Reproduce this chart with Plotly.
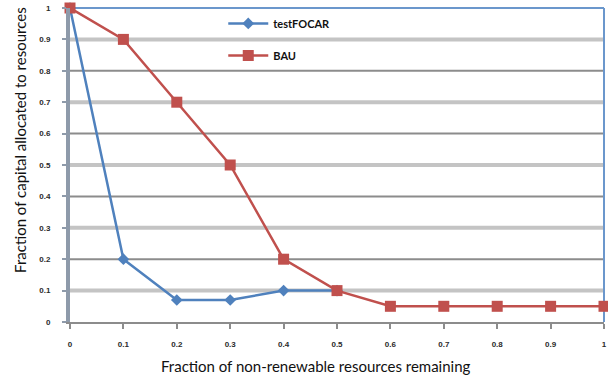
import plotly.graph_objects as go

x_focar = [0, 0.1, 0.2, 0.3, 0.4, 0.5]
y_focar = [1, 0.2, 0.07, 0.07, 0.1, 0.1]
x_bau = [0, 0.1, 0.2, 0.3, 0.4, 0.5, 0.6, 0.7, 0.8, 0.9, 1.0]
y_bau = [1, 0.9, 0.7, 0.5, 0.2, 0.1, 0.05, 0.05, 0.05, 0.05, 0.05]
tick_vals = [0, 0.1, 0.2, 0.3, 0.4, 0.5, 0.6, 0.7, 0.8, 0.9, 1.0]
tick_text = ["0", "0.1", "0.2", "0.3", "0.4", "0.5", "0.6", "0.7", "0.8", "0.9", "1"]
x_title = "Fraction of non-renewable resources remaining"
y_title = "Fraction of capital allocated to resources"

BLUE = "#4f81bd"
RED = "#c0504d"

fig = go.Figure()
fig.add_trace(go.Scatter(x=x_focar, y=y_focar, name="<b>testFOCAR</b>", mode="lines+markers",
                         line=dict(color=BLUE, width=2.5),
                         marker=dict(symbol="diamond", size=9, color=BLUE),
                         cliponaxis=False, legendgroup="a"))
fig.add_trace(go.Scatter(x=x_bau, y=y_bau, name="<b>BAU</b>", mode="lines+markers",
                         line=dict(color=RED, width=2.5),
                         marker=dict(symbol="square", size=11, color=RED),
                         cliponaxis=False, legendgroup="b"))

shapes = []
for i, v in enumerate(tick_vals[1:-1], start=1):
    if i % 2 == 1:
        shapes.append(dict(type="line", xref="paper", yref="y", x0=0, x1=1, y0=v, y1=v,
                           line=dict(color="#c4c4c4", width=4), layer="below"))
    else:
        shapes.append(dict(type="line", xref="paper", yref="y", x0=0, x1=1, y0=v, y1=v,
                           line=dict(color="#8c8c8c", width=2), layer="below"))
shapes.append(dict(type="line", xref="paper", yref="paper", x0=0, x1=1, y0=1, y1=1,
                   line=dict(color="#6b97cc", width=2), layer="below"))
shapes.append(dict(type="line", xref="paper", yref="paper", x0=1, x1=1, y0=0, y1=1,
                   line=dict(color="#6b97cc", width=2), layer="below"))

tickfont = dict(family="Liberation Sans", size=8, color="#2a2a2a", weight="bold")
titlefont = dict(family="Lato", size=15, color="#111111")

fig.update_layout(
    width=608, height=387,
    margin=dict(l=70, r=4, t=8, b=65),
    paper_bgcolor="white", plot_bgcolor="white",
    shapes=shapes,
    showlegend=True,
    legend=dict(x=0.287, y=0.997, xanchor="left", yanchor="top",
                bgcolor="rgba(0,0,0,0)", font=dict(family="Lato", size=11, color="#111111"),
                tracegroupgap=13, itemwidth=40),
    xaxis=dict(range=[0, 1], tickvals=tick_vals, ticktext=tick_text, tickfont=tickfont,
               showgrid=False, zeroline=False, showline=True, linecolor="#8c8c8c", linewidth=2,
               ticks="outside", ticklen=5, tickcolor="#8c8c8c", tickwidth=2,
               ticklabelstandoff=8, automargin=False),
    yaxis=dict(range=[0, 1], tickvals=tick_vals, ticktext=tick_text, tickfont=tickfont,
               showgrid=False, zeroline=False, showline=True, linecolor="#8e9aaa", linewidth=4,
               ticks="outside", ticklen=4, tickcolor="#8e9aaa", tickwidth=2,
               ticklabelstandoff=10, automargin=False),
    annotations=[
        dict(text=x_title, xref="paper", yref="paper", x=0.461, y=-0.140,
             xanchor="center", yanchor="middle", showarrow=False, font=titlefont),
        dict(text=y_title, xref="paper", yref="paper", x=-0.0936, y=0.580,
             xanchor="center", yanchor="middle", showarrow=False, textangle=-90,
             font=titlefont),
    ],
)

fig.write_html("out.html", config={"displayModeBar": False},
               post_script="document.body.style.margin='0';")
